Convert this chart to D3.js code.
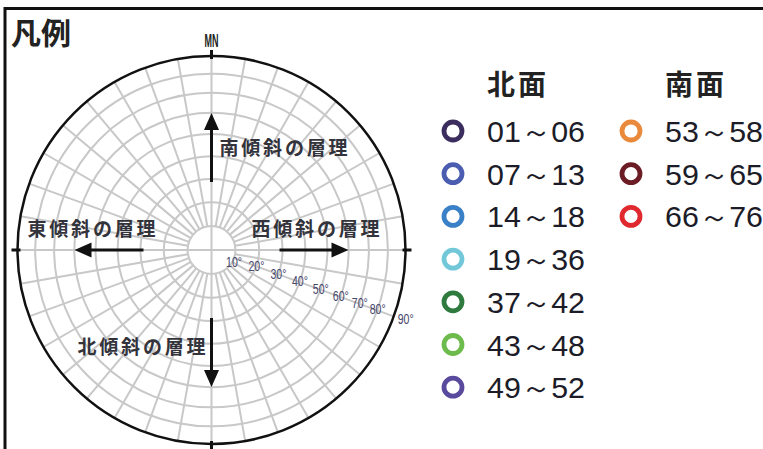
<!DOCTYPE html>
<html><head><meta charset="utf-8">
<script src="https://cdn.jsdelivr.net/npm/d3@7"></script>
<style>
html,body{margin:0;padding:0;background:#fff;}
svg{display:block;}
</style></head>
<body>
<svg id="c" width="763" height="449"></svg>
<script>
// ---- data ----
const dipTicks = [10, 20, 30, 40, 50, 60, 70, 80, 90];
const azimuthStep = 10;
const arrowLabels = ["南傾斜の層理", "東傾斜の層理", "西傾斜の層理", "北傾斜の層理"];
const arrowDirs = ["N", "W", "E", "S"];
const northTitle = "北面";
const southTitle = "南面";
const northGroups = ["01～06", "07～13", "14～18", "19～36", "37～42", "43～48", "49～52"];
const northColors = ["#3b2d5e", "#4a5db0", "#3a80c6", "#72c8d8", "#2f7a3f", "#6cbb4c", "#5a4a9e"];
const southGroups = ["53～58", "59～65", "66～76"];
const southColors = ["#e9893c", "#6b1c24", "#e0282f"];
const legendTitle = "凡例";
const northLabel = "MN";

// ---- layout ----
const svg = d3.select("#c");
const cx = 211.5, cy = 250, R = 194;
const jp = "'Noto Sans CJK JP','Noto Sans',sans-serif";
const narrow = "'Liberation Sans Narrow','Liberation Sans',Arial,sans-serif";

// equal-area (Schmidt) radial scale
const eq = d => Math.SQRT2 * Math.sin(d * Math.PI / 360);
const rLin = d3.scaleLinear().domain([0, 1]).range([0, R]);
const r = d => rLin(eq(d));

// frame
svg.append("line").attr("x1", 4).attr("x2", 763).attr("y1", 8.5).attr("y2", 8.5)
  .attr("stroke", "#111").attr("stroke-width", 3);
svg.append("line").attr("x1", 5).attr("x2", 5).attr("y1", 7).attr("y2", 449)
  .attr("stroke", "#111").attr("stroke-width", 3);

svg.append("text").attr("x", 11).attr("y", 44).text(legendTitle)
  .attr("font-family", jp).attr("font-size", 30).attr("font-weight", "bold").attr("fill", "#222");

const g = svg.append("g").attr("transform", `translate(${cx},${cy})`);
const grid = "#c8c8c8";

// concentric circles
g.selectAll("circle.grid").data(dipTicks.filter(d => d < 90)).join("circle")
  .attr("class", "grid").attr("r", d => r(d)).attr("fill", "none")
  .attr("stroke", grid).attr("stroke-width", 2);

// radial lines
const az = d3.range(0, 360, azimuthStep);
g.selectAll("line.rad").data(az.filter(a => a % 90 !== 0)).join("line")
  .attr("class", "rad")
  .attr("x1", a => r(10) * Math.sin(a * Math.PI / 180))
  .attr("y1", a => -r(10) * Math.cos(a * Math.PI / 180))
  .attr("x2", a => R * Math.sin(a * Math.PI / 180))
  .attr("y2", a => -R * Math.cos(a * Math.PI / 180))
  .attr("stroke", grid).attr("stroke-width", 2);

// cross lines
g.append("line").attr("x1", -R).attr("x2", R).attr("y1", 0).attr("y2", 0).attr("stroke", grid).attr("stroke-width", 2);
g.append("line").attr("y1", -R).attr("y2", R).attr("x1", 0).attr("x2", 0).attr("stroke", grid).attr("stroke-width", 2);

// outer circle
g.append("circle").attr("r", R).attr("fill", "none").attr("stroke", "#111").attr("stroke-width", 2.5);

// cardinal ticks
[[0, -1], [0, 1], [-1, 0], [1, 0]].forEach(([dx, dy]) => {
  g.append("line").attr("x1", dx * (R - 3)).attr("y1", dy * (R - 3))
    .attr("x2", dx * (R + 6)).attr("y2", dy * (R + 6))
    .attr("stroke", "#111").attr("stroke-width", 3);
});

// MN label
g.append("text").attr("x", 0).attr("y", -R - 9).attr("text-anchor", "middle")
  .attr("font-family", narrow).attr("font-weight", "bold").attr("font-size", 18)
  .attr("textLength", 14).attr("lengthAdjust", "spacingAndGlyphs")
  .attr("fill", "#222").text(northLabel);

// dip labels
const labAng = 19.5 * Math.PI / 180;
g.selectAll("text.dip").data(dipTicks).join("text").attr("class", "dip")
  .attr("x", d => (r(d) + (d === 90 ? 12 : 0)) * Math.cos(labAng))
  .attr("y", d => (r(d) + (d === 90 ? 12 : 0)) * Math.sin(labAng) + 5 + (d === 10 ? 4 : 0))
  .attr("text-anchor", "middle")
  .attr("font-family", narrow).attr("font-size", 14).attr("fill", "#45466a")
  .attr("textLength", 16).attr("lengthAdjust", "spacingAndGlyphs")
  .text(d => d + "°");

// arrows
const dirVec = {N: [0, -1], S: [0, 1], W: [-1, 0], E: [1, 0]};
const r0 = 68, r1 = 137, headL = 17, headW = 7.5;
arrowDirs.forEach(k => {
  const [dx, dy] = dirVec[k];
  const px = -dy, py = dx;
  g.append("line").attr("x1", dx * r0).attr("y1", dy * r0)
    .attr("x2", dx * (r1 - headL + 1)).attr("y2", dy * (r1 - headL + 1))
    .attr("stroke", "#111").attr("stroke-width", 3);
  const tip = [dx * r1, dy * r1];
  const b = [dx * (r1 - headL), dy * (r1 - headL)];
  g.append("path").attr("d", `M${tip}L${b[0] + px * headW},${b[1] + py * headW}L${b[0] - px * headW},${b[1] - py * headW}Z`)
    .attr("fill", "#111");
});

// arrow labels
const labPos = {N: [8, -95], W: [-184, -14], E: [40, -14], S: [-134, 104]};
arrowDirs.forEach((k, i) => {
  g.append("text").attr("x", labPos[k][0]).attr("y", labPos[k][1])
    .attr("font-family", jp).attr("font-size", 19).attr("font-weight", "bold")
    .attr("textLength", 128).attr("lengthAdjust", "spacing")
    .attr("fill", "#33333c").text(arrowLabels[i]);
});

// legend
const rowY = d3.scaleLinear().domain([0, 1]).range([131, 173.7]);
function legendCol(x0, title, groups, colors) {
  const lg = svg.append("g");
  lg.append("text").attr("x", x0 + 34).attr("y", 95).text(title)
    .attr("font-family", jp).attr("font-size", 28).attr("font-weight", "bold")
    .attr("letter-spacing", 3).attr("fill", "#222");
  groups.forEach((t, i) => {
    lg.append("circle").attr("cx", x0).attr("cy", rowY(i)).attr("r", 9)
      .attr("fill", "none").attr("stroke", colors[i]).attr("stroke-width", 4.8);
    lg.append("text").attr("x", x0 + 34).attr("y", rowY(i) + 11)
      .attr("font-family", narrow).attr("font-size", 30).attr("fill", "#1c1c28")
      .attr("textLength", 98).attr("lengthAdjust", "spacingAndGlyphs").text(t);
  });
}
legendCol(453, northTitle, northGroups, northColors);
legendCol(631, southTitle, southGroups, southColors);
</script>
</body></html>
